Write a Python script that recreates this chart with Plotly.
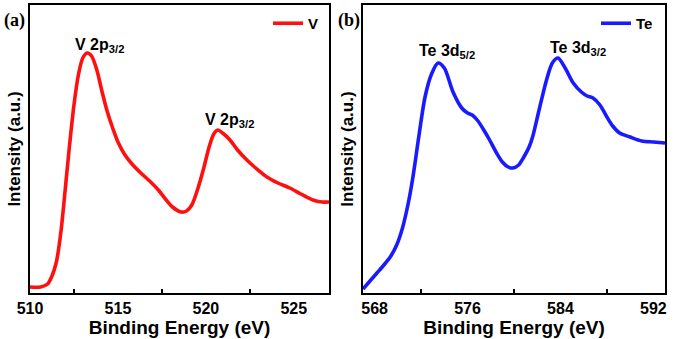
import plotly.graph_objects as go

# ---- data ----
v_energy = [510.0, 510.6, 511.0, 511.25, 511.5, 511.75, 512.0, 512.25, 512.5, 512.75,
            513.0, 513.25, 513.5, 513.8, 514.1, 514.4, 514.7, 515.0, 515.4, 515.8,
            516.3, 516.8, 517.3, 517.7, 518.1, 518.6, 518.9, 519.2, 519.5, 519.85,
            520.2, 520.45, 520.68, 520.95, 521.37, 521.8, 522.33, 522.9, 523.47, 524.1,
            524.77, 525.4, 526.08, 526.6, 527.0]
v_intensity = [6, 6, 9, 17, 31, 60, 103, 148, 188, 218,
               235, 240, 237, 223, 201, 181, 165, 151, 138, 129,
               120, 112, 103, 94, 86, 81, 82, 88, 102, 123,
               147, 159, 163, 160, 153, 143, 133, 124, 116, 110,
               105, 99, 93, 91, 91]

te_energy = [567.0, 567.6, 568.2, 568.8, 569.4, 569.9, 570.4, 570.9, 571.3, 571.8,
             572.34, 572.9, 573.46, 574.0, 574.75, 575.5, 576.0, 576.4, 576.9, 577.4,
             577.9, 578.5, 579.0, 579.5, 579.91, 580.4, 580.9, 581.3, 581.6, 582.2,
             582.8, 583.3, 583.79, 584.4, 585.1, 585.8, 586.3, 586.8, 587.4, 588.0,
             588.5, 589.1, 589.99, 591.0, 592.0, 593.0]
te_intensity = [4, 12, 20, 28, 37, 48, 65, 90, 116, 156,
                196, 219, 230, 225, 201, 185, 180, 178, 172, 163,
                153, 140, 131, 126, 125, 128, 137, 146, 156, 185,
                213, 230, 235, 225, 210, 201, 197, 195, 188, 176,
                167, 160, 156, 152, 151, 150]

v_ticks = [510, 515, 520, 525]
te_ticks = [568, 576, 584, 592]

FONT = "Liberation Sans, Arial, sans-serif"

fig = go.Figure()
fig.add_trace(go.Scatter(x=v_energy, y=v_intensity, mode="lines", name="<b>V</b>",
                         line=dict(color="#ff1010", width=3.6, shape="spline", smoothing=0.8),
                         xaxis="x", yaxis="y", legend="legend"))
fig.add_trace(go.Scatter(x=te_energy, y=te_intensity, mode="lines", name="<b>Te</b>",
                         line=dict(color="#1a1aff", width=3.6, shape="spline", smoothing=0.8),
                         xaxis="x2", yaxis="y2", legend="legend2"))

ydom = [1 - 293 / 339, 1 - 5 / 339]
axis_common = dict(showline=True, linecolor="black", linewidth=2, mirror=True,
                   showgrid=False, zeroline=False, automargin=False)

fig.update_layout(
    width=674, height=339,
    margin=dict(l=0, r=0, t=0, b=0),
    paper_bgcolor="white", plot_bgcolor="white",
    font=dict(family=FONT, color="black", size=15),
    xaxis=dict(domain=[30 / 674, 329 / 674], range=[510, 527], tickvals=v_ticks,
               ticks="", tickfont=dict(size=16, family=FONT, weight="bold"),
               minor=dict(ticks="inside", tick0=512.5, dtick=5, ticklen=4, tickwidth=1.5, tickcolor="black"),
               title=dict(text="<b>Binding Energy (eV)</b>", font=dict(size=19), standoff=1),
               anchor="y", **axis_common),
    yaxis=dict(domain=ydom, range=[0, 288], showticklabels=False, ticks="",
               title=dict(text="<b>Intensity (a.u.)</b>", font=dict(size=17), standoff=3),
               anchor="x", **axis_common),
    xaxis2=dict(domain=[363 / 674, 665 / 674], range=[567, 593], tickvals=te_ticks,
                ticks="", tickfont=dict(size=16, family=FONT, weight="bold"),
                minor=dict(ticks="inside", tick0=572, dtick=8, ticklen=4, tickwidth=1.5, tickcolor="black"),
                title=dict(text="<b>Binding Energy (eV)</b>", font=dict(size=19), standoff=1),
                anchor="y2", **axis_common),
    yaxis2=dict(domain=ydom, range=[0, 288], showticklabels=False, ticks="",
                title=dict(text="<b>Intensity (a.u.)</b>", font=dict(size=17), standoff=3),
                anchor="x2", **axis_common),
    legend=dict(x=268 / 674, y=1 - 7 / 339, xanchor="left", yanchor="top",
                bgcolor="rgba(0,0,0,0)", font=dict(size=15), itemwidth=30,
                tracegroupgap=0),
    legend2=dict(x=596 / 674, y=1 - 7 / 339, xanchor="left", yanchor="top",
                 bgcolor="rgba(0,0,0,0)", font=dict(size=15), itemwidth=30,
                 tracegroupgap=0),
    showlegend=True,
)

annots = [
    dict(text="<b>V 2p<sub>3/2</sub></b>", x=512.44, y=293 - 46, xref="x", yref="y"),
    dict(text="<b>V 2p<sub>3/2</sub></b>", x=519.83, y=293 - 120, xref="x", yref="y"),
    dict(text="<b>Te 3d<sub>5/2</sub></b>", x=571.65, y=293 - 52, xref="x2", yref="y2"),
    dict(text="<b>Te 3d<sub>3/2</sub></b>", x=582.93, y=293 - 49, xref="x2", yref="y2"),
]
for a in annots:
    fig.add_annotation(showarrow=False, xanchor="left", yanchor="middle",
                       font=dict(size=16, family=FONT, color="black"), **a)

for txt, px in [("(a)", 14), ("(b)", 349)]:
    fig.add_annotation(text="<b>%s</b>" % txt, x=px / 674, y=1 - 21 / 339, xref="paper", yref="paper",
                       showarrow=False, xanchor="center", yanchor="middle",
                       font=dict(size=18, family="Liberation Serif, Times New Roman, serif", color="black"))

fig.write_html("out.html", config={"displayModeBar": False},
               post_script="document.body.style.margin='0px';document.body.style.padding='0px';")
